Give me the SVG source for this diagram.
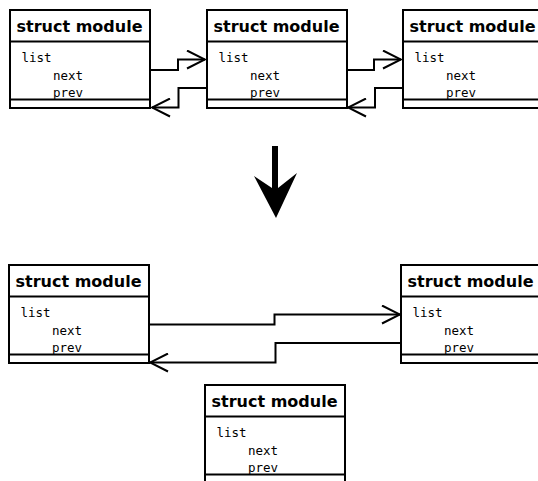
<svg xmlns="http://www.w3.org/2000/svg" width="538" height="481" viewBox="0 0 538 481">
  <style>
    .box { fill: #fff; stroke: #000; stroke-width: 2; }
    .sep { stroke: #000; stroke-width: 2; }
    .title { font-family: "DejaVu Sans", sans-serif; font-weight: bold; font-size: 16px; fill: #000; }
    .mono { font-family: "DejaVu Sans Mono", monospace; font-size: 12.5px; fill: #000; }
    .wire { fill: none; stroke: #000; stroke-width: 2; }
  </style>
  <defs>
    <!-- one struct module node: header, list body, trailing compartment -->
    <g id="module">
      <rect class="box" x="0" y="0" width="140" height="98"/>
      <line class="sep" x1="0" y1="31.5" x2="140" y2="31.5"/>
      <line class="sep" x1="0" y1="89.5" x2="140" y2="89.5"/>
      <text class="title" x="6.5" y="22">struct module</text>
      <text class="mono" x="11.5" y="51.5">list</text>
      <text class="mono" x="43" y="70">next</text>
      <text class="mono" x="43" y="87">prev</text>
    </g>
    <marker id="open" viewBox="0 0 20 20" refX="19" refY="10" markerWidth="20" markerHeight="20" markerUnits="userSpaceOnUse" orient="auto">
      <path d="M1,1 L19,10 L1,19" fill="none" stroke="#000" stroke-width="2"/>
    </marker>
  </defs>

  <g id="top-a"><use href="#module" x="10" y="10"/></g>
  <g id="top-b"><use href="#module" x="207" y="10"/></g>
  <g id="top-c"><use href="#module" x="403" y="10"/></g>
  <g id="bottom-a"><use href="#module" x="9" y="265"/></g>
  <g id="bottom-b"><use href="#module" x="401" y="265"/></g>
  <g id="removed"><use href="#module" x="205" y="385"/></g>

  <g id="connectors">
    <!-- top row links -->
    <path class="wire" marker-end="url(#open)" d="M150,70 H178 V59.5 H205"/>
    <path class="wire" marker-end="url(#open)" d="M207,88 H178.5 V107.5 H152"/>
    <path class="wire" marker-end="url(#open)" d="M346,70 H374 V59.5 H401"/>
    <path class="wire" marker-end="url(#open)" d="M403,88 H375 V107.5 H348"/>
    <!-- bottom row links -->
    <path class="wire" marker-end="url(#open)" d="M148,324.5 H274.5 V314.5 H400"/>
    <path class="wire" marker-end="url(#open)" d="M401,343 H275.5 V362.5 H150"/>
  </g>

  <!-- transition arrow -->
  <g id="transition">
    <polygon fill="#000" points="272,146 278,146 278,188 297,173 276,218 254,176 272,188"/>
  </g>
</svg>
